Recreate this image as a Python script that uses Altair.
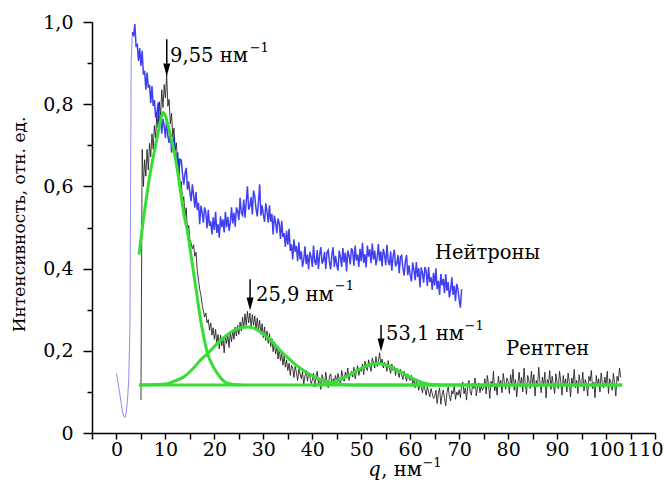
import altair as alt
import pandas as pd

FONT = "DejaVu Serif"

# ---------------- data ----------------
blue_low_q = [0.0, 0.25, 0.5, 0.75, 1.0, 1.25, 1.5, 1.75, 2.0, 2.25, 2.5, 2.75, 3.0, 3.25]
blue_low_y = [0.145, 0.128, 0.108, 0.090, 0.070, 0.050, 0.040, 0.038, 0.050, 0.080, 0.130, 0.260, 0.900, 0.975]

blue_q_start, blue_q_step = 3.25, 0.25
blue_y_milli = [
    975, 965, 995, 942, 945, 905, 936, 893, 930, 872, 881, 835, 877, 840, 847, 803, 844, 796, 810, 767,
    778, 804, 754, 771, 728, 764, 747, 718, 765, 722, 706, 735, 682, 710, 720, 673, 671, 683, 634, 666,
    664, 629, 604, 632, 645, 592, 612, 584, 564, 605, 580, 548, 586, 542, 560, 508, 553, 536, 512, 549,
    537, 498, 543, 504, 515, 483, 525, 494, 538, 487, 508, 475, 527, 501, 520, 488, 538, 501, 526, 492,
    512, 549, 510, 536, 502, 549, 540, 518, 572, 536, 530, 568, 524, 562, 600, 543, 552, 574, 532, 590,
    576, 546, 527, 562, 605, 529, 554, 531, 514, 559, 539, 512, 554, 514, 533, 483, 529, 513, 486, 522,
    510, 472, 516, 477, 486, 453, 492, 458, 497, 443, 459, 422, 471, 441, 455, 418, 464, 422, 442, 404,
    421, 454, 411, 434, 398, 441, 429, 404, 456, 417, 409, 445, 399, 434, 452, 412, 420, 441, 399, 439,
    445, 416, 398, 434, 452, 404, 431, 409, 395, 444, 428, 404, 450, 415, 439, 393, 444, 432, 410, 450,
    442, 407, 456, 420, 434, 404, 448, 418, 463, 414, 435, 403, 456, 429, 447, 413, 461, 422, 444, 408,
    426, 460, 418, 442, 405, 448, 434, 408, 458, 418, 408, 442, 395, 430, 446, 405, 412, 433, 389, 428,
    432, 402, 383, 417, 433, 384, 408, 384, 369, 415, 398, 372, 416, 379, 401, 354, 403, 389, 366, 404,
    394, 358, 404, 367, 379, 348, 390, 359, 401, 350, 370, 336, 387, 359, 375, 340, 387, 346, 367, 330,
    347, 379, 336, 358, 321, 363, 350, 324, 305, 350,
]

black_q_start, black_q_step = 5.0, 0.25
black_y_milli = [
    80, 690, 600, 665, 625, 690, 640, 705, 672, 728, 690, 748, 718, 780, 742, 806, 768, 835, 792, 848,
    815, 872, 795, 812, 752, 778, 720, 742, 688, 706, 650, 668, 595, 612, 560, 575, 528, 548, 490, 505,
    470, 462, 448, 458, 430, 440, 395, 372, 350, 335, 312, 298, 282, 292, 268, 276, 250, 268, 238, 256,
    228, 252, 215, 240, 205, 238, 212, 232, 195, 235, 218, 240, 208, 244, 222, 250, 228, 258, 236, 262,
    240, 270, 248, 282, 255, 290, 262, 296, 268, 292, 258, 288, 262, 285, 250, 280, 252, 274, 240, 266,
    232, 258, 225, 248, 218, 242, 210, 230, 198, 222, 192, 210, 180, 205, 176, 195, 165, 188, 160, 178,
    152, 170, 140, 165, 158, 135, 162, 148, 128, 155, 144, 132, 150, 118, 140, 152, 126, 146, 138, 120,
    128, 146, 112, 138, 150, 120, 134, 106, 142, 130, 118, 148, 125, 110, 138, 144, 116, 132, 126, 140,
    122, 145, 130, 118, 152, 138, 126, 148, 134, 158, 128, 142, 150, 136, 160, 132, 148, 164, 140, 155,
    150, 168, 142, 175, 160, 152, 178, 164, 150, 182, 170, 158, 186, 162, 175, 195, 166, 180, 158, 172,
    165, 150, 176, 158, 145, 168, 152, 162, 140, 158, 148, 135, 155, 142, 130, 150, 138, 126, 144, 132,
    128, 140, 118, 132, 110, 126, 120, 104, 122, 112, 98, 118, 106, 92, 112, 100, 88, 108, 96, 84,
    88, 104, 72, 96, 110, 70, 92, 105, 84, 66, 98, 112, 90, 78, 103, 95, 116, 82, 100, 92,
    105, 86, 118, 124, 95, 110, 80, 115, 128, 100, 92, 120, 108, 134, 90, 112, 122, 98, 116, 104,
    110, 132, 95, 140, 118, 84, 126, 112, 150, 102, 120, 92, 138, 116, 128, 98, 145, 122, 106, 134,
    125, 96, 142, 118, 155, 104, 130, 88, 122, 148, 112, 136, 100, 158, 120, 94, 140, 126, 108, 150,
    118, 142, 90, 128, 112, 160, 124, 98, 136, 115, 148, 85, 130, 120, 152, 106, 138, 118, 96, 144,
    122, 108, 150, 126, 92, 140, 116, 132, 100, 146, 124, 88, 134, 118, 155, 110, 128, 96, 142, 120,
    114, 148, 102, 130, 120, 90, 138, 126, 152, 108, 124, 86, 140, 116, 132, 100, 146, 122, 110, 136,
    118, 150, 96, 132, 124, 104, 145, 120, 90, 138, 126, 158, 135,
]

fit_base_q = [4.6, 103.3]
fit_base_y = [0.117, 0.117]
fit1_q = [4.6, 5.5, 6.3, 7.0, 7.7, 8.4, 9.0, 9.5, 10.0, 10.6, 11.2, 11.8, 12.5, 13.1, 13.8,
          14.5, 15.2, 15.8, 16.5, 17.2, 17.9, 18.6, 19.6, 20.6, 21.6, 22.6, 24.0, 25.5]
fit1_y = [0.434, 0.52, 0.587, 0.64, 0.683, 0.725, 0.76, 0.78, 0.772, 0.745, 0.715, 0.683, 0.635, 0.587, 0.531,
          0.49, 0.435, 0.386, 0.33, 0.274, 0.23, 0.193, 0.165, 0.145, 0.13, 0.121, 0.118, 0.117]
fit2_q = [4.6, 8.0, 10.4, 12.0, 13.8, 15.5, 17.2, 18.6, 20.6, 22.3, 24.0, 25.4, 26.7, 28.0, 29.4,
          30.8, 32.1, 33.5, 34.8, 36.2, 37.6, 39.3, 41.0, 42.6, 44.3, 46.0, 48.0, 103.3]
fit2_y = [0.117, 0.118, 0.12, 0.127, 0.137, 0.155, 0.178, 0.193, 0.218, 0.236, 0.25, 0.256, 0.258, 0.255, 0.246,
          0.233, 0.218, 0.2, 0.185, 0.17, 0.157, 0.144, 0.133, 0.126, 0.121, 0.118, 0.117, 0.117]
fit3_q = [40.0, 43.0, 45.0, 47.0, 49.0, 51.0, 53.2, 55.0, 57.0, 59.0, 61.0, 63.4, 66.0]
fit3_y = [0.117, 0.12, 0.127, 0.137, 0.151, 0.163, 0.169, 0.166, 0.155, 0.142, 0.13, 0.12, 0.117]

arrow_q = [10.27, 27.29, 54.04]
arrow_top = [0.958, 0.374, 0.263]
arrow_head = [0.883, 0.314, 0.214]
peak_text = ["9,55 нм", "25,9 нм", "53,1 нм"]
peak_text_q = [10.95, 28.5, 55.07]
peak_text_y = [0.9036, 0.322, 0.227]
sup_text = ["−1", "−1", "−1"]
sup_q = [27.2, 44.6, 71.1]
sup_y = [0.928, 0.349, 0.25]

series_text = ["Нейтроны", "Рентген"]
series_text_q = [65.07, 79.57]
series_text_y = [0.424, 0.19]

x_title_parts = ["q", ", нм", "−1"]
x_title_q = [51.45, 54.1, 62.5]
x_title_y = [-0.1046, -0.1046, -0.0825]

x_ticks = list(range(-5, 111, 5))
y_ticks = [round(i * 0.1, 1) for i in range(11)]
y_title = "Интенсивность, отн. ед."

# ---------------- tables ----------------
blue_low_df = pd.DataFrame({"q": blue_low_q, "y": blue_low_y})
blue_df = pd.DataFrame({
    "q": [blue_q_start + blue_q_step * i for i in range(len(blue_y_milli))],
    "y": [v / 1000 for v in blue_y_milli],
})
black_df = pd.DataFrame({
    "q": [black_q_start + black_q_step * i for i in range(len(black_y_milli))],
    "y": [v / 1000 for v in black_y_milli],
})
fit_df = pd.concat([
    pd.DataFrame({"q": fit_base_q, "y": fit_base_y, "c": "base"}),
    pd.DataFrame({"q": fit1_q, "y": fit1_y, "c": "p1"}),
    pd.DataFrame({"q": fit2_q, "y": fit2_y, "c": "p2"}),
    pd.DataFrame({"q": fit3_q, "y": fit3_y, "c": "p3"}),
])
arrow_df = pd.DataFrame({"q": arrow_q, "y": arrow_top, "y2": arrow_head})
head_df = pd.DataFrame({"q": arrow_q, "y": arrow_head})
peak_df = pd.DataFrame({"q": peak_text_q, "y": peak_text_y, "t": peak_text})
sup_df = pd.DataFrame({"q": sup_q, "y": sup_y, "t": sup_text})
series_df = pd.DataFrame({"q": series_text_q, "y": series_text_y, "t": series_text})
xt_df = pd.DataFrame({"q": x_title_q[:1], "y": x_title_y[:1], "t": x_title_parts[:1]})
xt2_df = pd.DataFrame({"q": x_title_q[1:2], "y": x_title_y[1:2], "t": x_title_parts[1:2]})
xt3_df = pd.DataFrame({"q": x_title_q[2:], "y": x_title_y[2:], "t": x_title_parts[2:]})

# ---------------- encodings ----------------
x_axis = alt.Axis(
    values=x_ticks,
    labelExpr="datum.value % 10 == 0 ? datum.label : ''",
    labelOffset={"condition": {"test": "datum.value == 110", "value": -10}, "value": 0},
    title=None, grid=False,
    tickSize=6, tickWidth=1.5, tickColor="black",
    domainWidth=1.5, domainColor="black",
    labelFont=FONT, labelFontSize=19, labelColor="black",
    labelPadding=1, labelFlush=False, labelOverlap=False,
)
y_axis = alt.Axis(
    values=y_ticks,
    labelExpr="round(datum.value*10) % 2 == 0 ? (datum.value == 0 ? '0' : replace(format(datum.value, '.1f'), '.', ',')) : ''",
    title=y_title, titleFont=FONT, titleFontSize=17, titleFontWeight="normal", titleColor="black",
    titleAngle=270, titleX=-73, titleY=202, titleAlign="center", titleBaseline="middle",
    grid=False,
    tickSize={"condition": {"test": "round(datum.value*10) % 2 == 0", "value": 9}, "value": 5},
    tickWidth=1.5, tickColor="black",
    domainWidth=1.5, domainColor="black",
    labelFont=FONT, labelFontSize=19, labelColor="black",
    labelPadding=10, labelFlush=False, labelOverlap=False,
)
X = alt.X("q:Q", scale=alt.Scale(domain=[-5, 110], nice=False, zero=False), axis=x_axis)
Y = alt.Y("y:Q", scale=alt.Scale(domain=[0, 1], nice=False, zero=False), axis=y_axis)

black_line = alt.Chart(black_df).mark_line(color="#1c1c1c", strokeWidth=1, opacity=0.85).encode(x=X, y=Y)
blue_low = alt.Chart(blue_low_df).mark_line(color="#6f6ff2", strokeWidth=1, opacity=0.8).encode(x=X, y=Y)
blue_line = alt.Chart(blue_df).mark_line(color="#1f1ff0", strokeWidth=1.5, opacity=0.85).encode(x=X, y=Y)
fit_lines = alt.Chart(fit_df).mark_line(color="#35dd35", strokeWidth=3, interpolate="monotone").encode(
    x=X, y=Y, detail="c:N")
arrows = alt.Chart(arrow_df).mark_rule(color="black", strokeWidth=1.5).encode(x=X, y=Y, y2="y2:Q")
heads = alt.Chart(head_df).mark_point(
    shape="M-0.54,-1L0.54,-1L0,1Z", size=169, filled=True, color="black", opacity=1
).encode(x=X, y=Y)

def text_layer(df, size=19.5, italic=False):
    return alt.Chart(df).mark_text(
        font=FONT, fontSize=size, align="left", baseline="alphabetic", color="black",
        fontStyle="italic" if italic else "normal",
    ).encode(x=X, y=Y, text="t:N")

chart = alt.layer(
    black_line, blue_low, blue_line, fit_lines, arrows, heads,
    text_layer(peak_df), text_layer(sup_df, 13), text_layer(series_df),
    text_layer(xt_df, 19.5, True), text_layer(xt2_df), text_layer(xt3_df, 13),
).properties(
    width=563, height=411,
    padding={"left": 84, "top": 14, "right": 9, "bottom": 48},
    autosize=alt.AutoSizeParams(type="none"),
).configure_view(stroke=None)

chart.save("out.html", embed_options={"renderer": "svg", "actions": False})
